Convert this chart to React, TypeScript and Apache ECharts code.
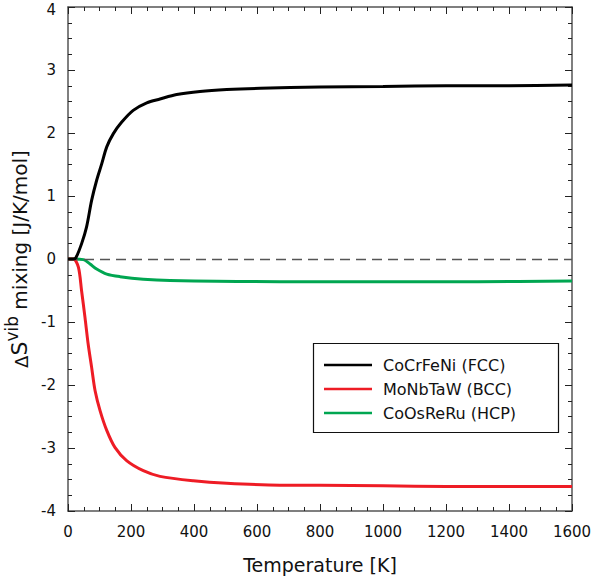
import React, { useEffect, useRef } from "react";
import * as echarts from "echarts";

const seriesNames = ["CoCrFeNi (FCC)", "MoNbTaW (BCC)", "CoOsReRu (HCP)"];
const seriesColors = ["#000000", "#ee1c25", "#00a651"];

const fccT = [0, 17, 25, 43, 59, 75, 91, 107, 123, 144, 170, 207, 250, 292, 345, 419, 504, 610, 800, 1000, 1200, 1400, 1600];
const fccS = [0, 0, 0.02, 0.24, 0.51, 0.93, 1.25, 1.51, 1.78, 1.99, 2.17, 2.36, 2.48, 2.54, 2.61, 2.66, 2.69, 2.71, 2.73, 2.74, 2.75, 2.75, 2.76];

const bccT = [0, 17, 33, 43, 54, 64, 75, 86, 102, 123, 149, 186, 239, 292, 398, 504, 673, 800, 1000, 1200, 1400, 1600];
const bccS = [0, 0, -0.13, -0.5, -0.93, -1.35, -1.72, -2.09, -2.41, -2.72, -2.99, -3.2, -3.36, -3.45, -3.52, -3.56, -3.59, -3.59, -3.6, -3.61, -3.61, -3.61];

const hcpT = [0, 17, 49, 70, 91, 123, 165, 239, 324, 673, 1000, 1300, 1600];
const hcpS = [0, 0, -0.01, -0.08, -0.16, -0.24, -0.28, -0.32, -0.34, -0.36, -0.36, -0.36, -0.35];

const xTicks = { min: 0, max: 1600, interval: 200 };
const yTicks = { min: -4, max: 4, interval: 1 };

const FONT = "Liberation Sans, Arial, sans-serif";
const WIDE = "DejaVu Sans, Liberation Sans, sans-serif";

export default function App() {
  const ref = useRef<HTMLDivElement>(null);
  useEffect(() => {
    if (!ref.current) return;
    const chart = echarts.init(ref.current, undefined, { renderer: "svg" });
    const toPairs = (t: number[], s: number[]) => t.map((v, i) => [v, s[i]]);
    const datasets = [toPairs(fccT, fccS), toPairs(bccT, bccS), toPairs(hcpT, hcpS)];
    const axisLine = { show: true, onZero: false, lineStyle: { color: "#555", width: 1.5 } };
    const tick = { show: true, inside: true, length: 7, lineStyle: { color: "#222", width: 1 } };
    const minor = { show: true, splitNumber: 4, length: 4, lineStyle: { color: "#222", width: 1 } };
    const fmt = (v: number) => String(v);
    const yFmt = (v: number) => (v === yTicks.max ? `{t|${v}}` : String(v));
    chart.setOption({
      animation: false,
      backgroundColor: "#fff",
      textStyle: { fontFamily: FONT },
      grid: { left: 68, right: 23, top: 7, bottom: 73, containLabel: false, outerBoundsMode: "none" },
      xAxis: [
        {
          type: "value", ...xTicks,
          name: "Temperature [K]", nameLocation: "middle", nameGap: 44,
          nameTextStyle: { fontSize: 19, color: "#111", fontFamily: WIDE },
          axisLine, axisTick: tick, minorTick: minor,
          axisLabel: { fontSize: 15, color: "#111", margin: 13, fontFamily: WIDE, formatter: fmt },
          splitLine: { show: false },
        },
        {
          type: "value", ...xTicks, position: "top",
          axisLine, axisTick: tick, minorTick: minor,
          axisLabel: { show: false }, splitLine: { show: false },
        },
      ],
      yAxis: [
        {
          type: "value", ...yTicks,
          name: "{d|Δ}{s|S}{sup|vib}{n| mixing [J/K/mol]}",
          nameLocation: "middle", nameGap: 31, nameRotate: 90,
          nameTextStyle: {
            color: "#111", fontFamily: WIDE,
            rich: {
              d: { fontSize: 18, fontFamily: WIDE, color: "#111", verticalAlign: "bottom", lineHeight: 27 },
              s: { fontSize: 22, fontFamily: WIDE, color: "#111", verticalAlign: "bottom", lineHeight: 27 },
              sup: { fontSize: 17, fontFamily: WIDE, color: "#111", verticalAlign: "top", lineHeight: 27 },
              n: { fontSize: 20, fontFamily: WIDE, color: "#111", verticalAlign: "bottom", lineHeight: 27 },
            },
          },
          axisLine, axisTick: tick, minorTick: minor,
          axisLabel: {
            fontSize: 15, color: "#111", margin: 12, fontFamily: WIDE, formatter: yFmt,
            rich: { t: { fontSize: 15, fontFamily: WIDE, color: "#111", lineHeight: 15, padding: [6, 0, 0, 0] } },
          },
          splitLine: { show: false },
        },
        {
          type: "value", ...yTicks, position: "right",
          axisLine, axisTick: tick, minorTick: minor,
          axisLabel: { show: false }, splitLine: { show: false },
        },
      ],
      legend: {
        show: true,
        orient: "vertical",
        left: 319, top: 352,
        itemWidth: 48, itemHeight: 2.5, itemGap: 8,
        icon: "rect",
        data: seriesNames,
        textStyle: { fontSize: 16, color: "#111", fontFamily: WIDE, padding: [0, 0, 0, 6] },
      },
      graphic: [
        {
          type: "rect",
          shape: { x: 313.5, y: 343.5, width: 245, height: 89 },
          style: { fill: "none", stroke: "#111", lineWidth: 1.2 },
          z: 10,
        },
      ],
      series: seriesNames.map((name, i) => ({
        name,
        type: "line",
        data: datasets[i],
        smooth: 0.3,
        showSymbol: false,
        symbol: "none",
        color: seriesColors[i],
        lineStyle: { width: 3, color: seriesColors[i] },
        z: 5 - i,
        markLine: i === 0 ? {
          silent: true, symbol: "none", label: { show: false },
          lineStyle: { type: [10, 6], color: "#555", width: 1.3 },
          data: [{ yAxis: 0 }],
        } : undefined,
      })),
    });
    return () => chart.dispose();
  }, []);
  return <div ref={ref} style={{ width: 595, height: 584, position: "absolute", left: 0, top: 0 }} />;
}
